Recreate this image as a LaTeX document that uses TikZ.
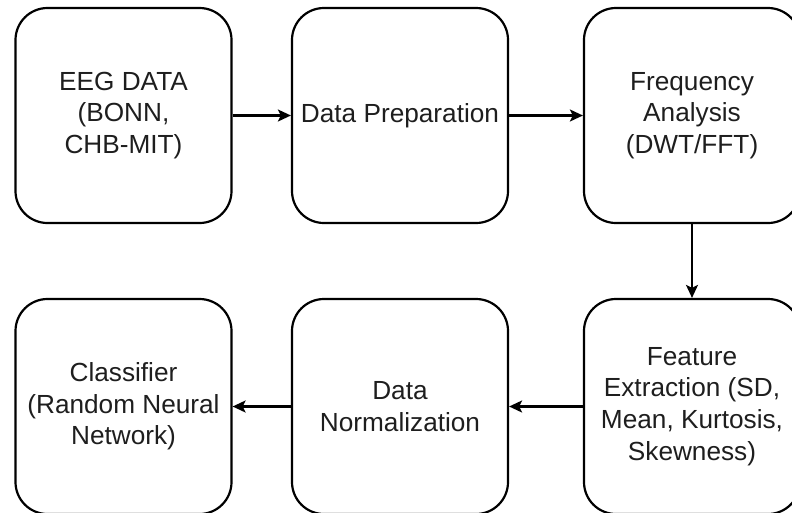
\documentclass[tikz,border=0pt]{standalone}
\usepackage{fontspec}
\setmainfont{Liberation Sans}
\usetikzlibrary{arrows.meta}
\definecolor{inkgray}{HTML}{1E1E1E}
\begin{document}
\begin{tikzpicture}[x=1pt,y=-1pt,
  stage/.style={draw=black, line width=2.2pt, rounded corners=32pt,
    minimum width=216pt, minimum height=215pt, align=center,
    inner sep=0pt, text=inkgray, font=\fontsize{26.2}{31.7}\selectfont},
  flow/.style={-{Stealth[length=13pt,width=12pt,inset=3pt]}, line width=2.2pt}]
\useasboundingbox (0,0) rectangle (792,512);
\clip (0,0) rectangle (792,512);
% top row
\node[stage] (eeg)  at (123.5,115.5) {EEG DATA\\(BONN,\\CHB-MIT)};
\node[stage] (prep) at (400,115.5)   {Data Preparation};
\node[stage] (freq) at (692,115.5)   {Frequency\\Analysis\\(DWT/FFT)};
% bottom row
\node[stage] (clf)  at (123.5,406.5) {Classifier\\(Random Neural\\Network)};
\node[stage] (norm) at (400,406.5)   {Data\\Normalization};
\node[stage] (feat) at (692,406.5)   {Feature\\Extraction (SD,\\Mean, Kurtosis,\\Skewness)};
% pipeline connectors
\draw[flow] (eeg)  -- (prep);
\draw[flow] (prep) -- (freq);
\draw[flow] (freq) -- (feat);
\draw[flow] (feat) -- (norm);
\draw[flow] (norm) -- (clf);
\end{tikzpicture}
\end{document}
